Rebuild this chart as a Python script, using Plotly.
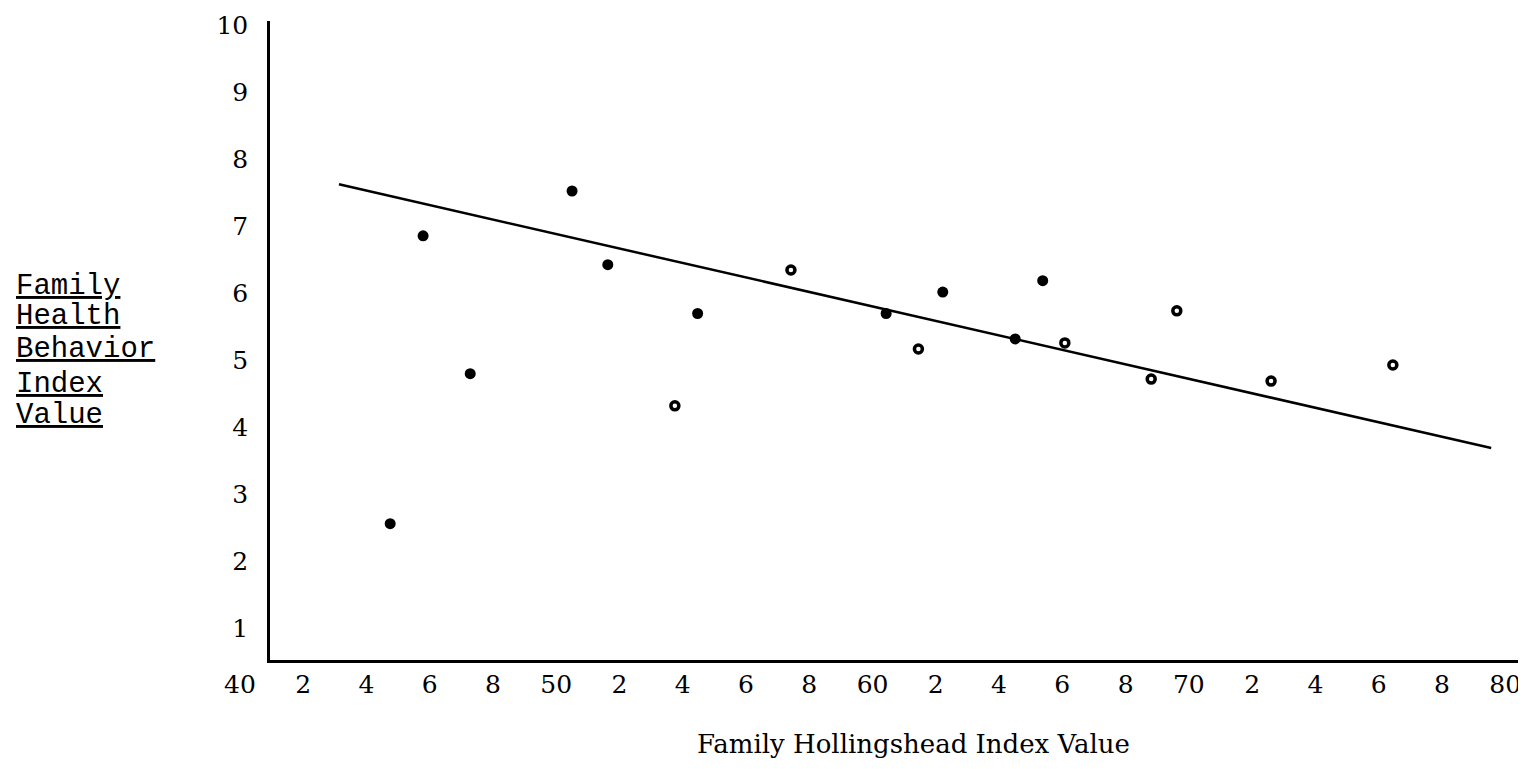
import plotly.graph_objects as go

# Data
filled_x = [44.75, 45.79, 47.28, 50.50, 51.63, 54.47, 60.43, 62.22, 64.51, 65.38]
filled_y = [2.56, 6.86, 4.80, 7.53, 6.43, 5.70, 5.70, 6.02, 5.32, 6.19]

open_x = [53.75, 57.42, 61.45, 66.08, 68.81, 69.62, 72.60, 76.45]
open_y = [4.32, 6.35, 5.17, 5.26, 4.72, 5.74, 4.69, 4.93]

line_x = [43.13, 79.56]
line_y = [7.63, 3.69]

x_tickvals = list(range(42, 81, 2))
x_ticktext = ["2", "4", "6", "8", "50", "2", "4", "6", "8", "60",
              "2", "4", "6", "8", "70", "2", "4", "6", "8", "80"]
y_tickvals = list(range(1, 11))
y_ticktext = [str(v) for v in y_tickvals]

y_title_lines = ["Family", "Health", "Behavior", "Index", "Value"]
x_title = "Family Hollingshead Index Value"

W, H = 1526, 769
L, R, T, B = 262, 14, 13, 117
PW, PH = W - L - R, H - T - B
X_RANGE = [40.95, 80.47]
Y_RANGE = [0.523, 10.07]


def px_to_paper_x(px):
    return (px - L) / PW


def py_to_paper_y(py):
    return (H - B - py) / PH


tick_font = dict(family="DejaVu Serif", size=25, color="black")

fig = go.Figure()
fig.add_trace(go.Scatter(x=line_x, y=line_y, mode="lines",
                         line=dict(color="black", width=2.5), showlegend=False,
                         hoverinfo="skip"))
fig.add_trace(go.Scatter(x=filled_x, y=filled_y, mode="markers",
                         marker=dict(symbol="circle", size=11, color="black"),
                         showlegend=False))
fig.add_trace(go.Scatter(x=open_x, y=open_y, mode="markers",
                         marker=dict(symbol="circle-open", size=8, color="black",
                                     line=dict(width=3.5, color="black")),
                         showlegend=False))

annotations = []
# the "40" label sits left of the vertical axis
x40 = (40 - X_RANGE[0]) / (X_RANGE[1] - X_RANGE[0])
annotations.append(dict(x=x40, xref="paper", y=0, yref="paper", text="40",
                        showarrow=False, yanchor="top", xanchor="center",
                        yshift=-8, font=tick_font))
title_py = [278, 308, 341, 376, 407]
for txt, py in zip(y_title_lines, title_py):
    annotations.append(dict(x=px_to_paper_x(6), xref="paper",
                            y=py_to_paper_y(py), yref="paper",
                            text="<u>" + txt + "</u>", showarrow=False,
                            xanchor="left", yanchor="middle",
                            font=dict(family="Liberation Mono", size=29, color="black")))
annotations.append(dict(x=px_to_paper_x(905), xref="paper",
                        y=py_to_paper_y(736), yref="paper",
                        text=x_title, showarrow=False,
                        xanchor="center", yanchor="middle",
                        font=dict(family="DejaVu Serif", size=26, color="black")))

fig.update_layout(
    width=W, height=H,
    margin=dict(l=L, r=R, t=T, b=B, autoexpand=False),
    paper_bgcolor="white", plot_bgcolor="white",
    annotations=annotations,
    xaxis=dict(range=X_RANGE, showgrid=False, zeroline=False,
               showline=True, linecolor="black", linewidth=2.5,
               tickmode="array", tickvals=x_tickvals, ticktext=x_ticktext,
               ticks="", ticklabelstandoff=0, tickfont=tick_font),
    yaxis=dict(range=Y_RANGE, showgrid=False, zeroline=False,
               showline=True, linecolor="black", linewidth=2.5,
               tickmode="array", tickvals=y_tickvals, ticktext=y_ticktext,
               ticks="", ticklabelstandoff=14, tickfont=tick_font),
)

fig.write_html("out.html")
